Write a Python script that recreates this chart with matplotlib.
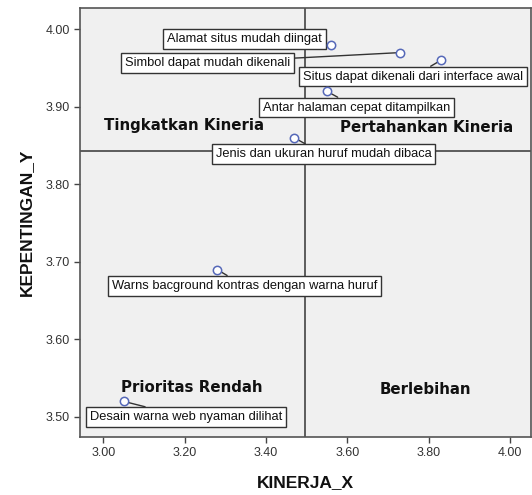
import matplotlib
matplotlib.use("Agg")
import matplotlib.pyplot as plt
import numpy as np

labels = [
    "Alamat situs mudah diingat",
    "Simbol dapat mudah dikenali",
    "Situs dapat dikenali dari interface awal",
    "Antar halaman cepat ditampilkan",
    "Jenis dan ukuran huruf mudah dibaca",
    "Warns bacground kontras dengan warna huruf",
    "Desain warna web nyaman dilihat",
]
kinerja_x = [3.56, 3.73, 3.83, 3.55, 3.47, 3.28, 3.05]
kepentingan_y = [3.98, 3.97, 3.96, 3.92, 3.86, 3.69, 3.52]
x_ticks = [3.00, 3.20, 3.40, 3.60, 3.80, 4.00]
y_ticks = [3.50, 3.60, 3.70, 3.80, 3.90, 4.00]
quadrant_names = ["Tingkatkan Kineria", "Pertahankan Kineria", "Prioritas Rendah", "Berlebihan"]

# label box centres (layout positions, data coords)
label_pos = [(3.347, 3.988), (3.257, 3.957), (3.761, 3.939), (3.623, 3.899),
             (3.542, 3.839), (3.348, 3.669), (3.204, 3.4996)]
quad_pos = [(3.198, 3.876), (3.794, 3.873), (3.217, 3.538), (3.792, 3.535)]

plt.rcParams['font.family'] = ['Liberation Sans', 'DejaVu Sans']

fig = plt.figure(figsize=(5.32, 4.95), dpi=100)
ax = fig.add_axes([0.1504, 0.1172, 0.848, 0.8666])
ax.set_facecolor('#f0f0f0')

ax.set_xlim(2.943, 4.052)
ax.set_ylim(3.474, 4.0275)

mx = np.mean(kinerja_x)
my = np.mean(kepentingan_y)
ax.axvline(mx, color='#444444', lw=1.2, zorder=1)
ax.axhline(my, color='#444444', lw=1.2, zorder=1)

for lab, x, y, (tx, ty) in zip(labels, kinerja_x, kepentingan_y, label_pos):
    ax.annotate(lab, xy=(x, y), xytext=(tx, ty), ha='center', va='center',
                fontsize=9.3, color='#111111', zorder=4,
                bbox=dict(boxstyle='square,pad=0.3', fc='white', ec='#333333', lw=1.0),
                arrowprops=dict(arrowstyle='-', color='#333333', lw=1.0,
                                shrinkA=0, shrinkB=3))

ax.scatter(kinerja_x, kepentingan_y, s=36, facecolors='white',
           edgecolors='#5568b8', linewidths=1.1, zorder=5)

for name, (qx, qy) in zip(quadrant_names, quad_pos):
    ax.text(qx, qy, name, ha='center', va='center', fontsize=10.8,
            fontweight='bold', family='DejaVu Sans', color='#111111', zorder=3)

ax.set_xticks(x_ticks)
ax.set_xticklabels([f"{v:.2f}" for v in x_ticks])
ax.set_yticks(y_ticks)
ax.set_yticklabels([f"{v:.2f}" for v in y_ticks])
ax.tick_params(axis='both', direction='out', length=4, width=1, color='#444444',
               labelsize=9, labelcolor='#333333')

for sp in ax.spines.values():
    sp.set_color('#555555')
    sp.set_linewidth(1.2)

ax.set_xlabel("KINERJA_X", fontsize=12.5, fontweight='bold', color='#111111', labelpad=11)
ax.set_ylabel("KEPENTINGAN_Y", fontsize=12.5, fontweight='bold', color='#111111', labelpad=8)

fig.savefig("out.png", dpi=100, facecolor='white')
